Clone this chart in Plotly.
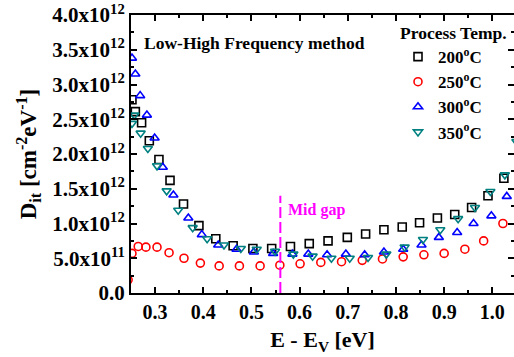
import numpy as np
import plotly.graph_objects as go

# ---- data (D_it in units of 1e12 cm^-2 eV^-1) ----
x_200 = [0.252, 0.259, 0.272, 0.288, 0.308, 0.331, 0.359, 0.391, 0.426, 0.462, 0.503, 0.542, 0.581,
         0.620, 0.659, 0.699, 0.737, 0.775, 0.813, 0.849, 0.886, 0.922, 0.957, 0.991, 1.024]
y_200 = [2.78, 2.61, 2.45, 2.19, 1.92, 1.62, 1.28, 0.97, 0.78, 0.68, 0.64, 0.64, 0.67,
         0.71, 0.75, 0.80, 0.85, 0.91, 0.95, 1.01, 1.08, 1.13, 1.23, 1.40, 1.65]

x_250 = [0.244, 0.252, 0.265, 0.281, 0.304, 0.329, 0.360, 0.394, 0.433, 0.475, 0.518, 0.559,
         0.601, 0.644, 0.687, 0.730, 0.772, 0.815, 0.858, 0.900, 0.943, 0.982, 1.022]
y_250 = [0.19, 0.57, 0.67, 0.66, 0.66, 0.58, 0.50, 0.43, 0.39, 0.39, 0.39, 0.40,
         0.42, 0.44, 0.45, 0.47, 0.49, 0.52, 0.55, 0.57, 0.63, 0.75, 1.00]

x_300 = [0.252, 0.259, 0.269, 0.283, 0.299, 0.316, 0.338, 0.369, 0.397, 0.431, 0.469, 0.505, 0.545,
         0.585, 0.618, 0.657, 0.696, 0.735, 0.775, 0.815, 0.853, 0.889, 0.927, 0.961, 0.998, 1.030]
y_300 = [3.38, 3.15, 2.84, 2.56, 2.23, 1.81, 1.41, 1.08, 0.84, 0.69, 0.63, 0.59, 0.57,
         0.56, 0.56, 0.55, 0.56, 0.55, 0.59, 0.63, 0.69, 0.80, 0.87, 1.00, 1.11, 1.39]

x_350 = [0.252, 0.257, 0.270, 0.285, 0.304, 0.324, 0.348, 0.378, 0.408, 0.443, 0.478, 0.511, 0.549,
         0.587, 0.627, 0.666, 0.704, 0.742, 0.780, 0.818, 0.856, 0.892, 0.929, 0.964, 0.996, 1.026, 1.050]
y_350 = [2.44, 2.56, 2.30, 2.08, 1.83, 1.47, 1.19, 0.94, 0.78, 0.69, 0.64, 0.63, 0.60,
         0.56, 0.53, 0.50, 0.50, 0.51, 0.56, 0.66, 0.77, 0.91, 1.07, 1.23, 1.46, 1.70, 2.18]

series_names = ["200<sup>o</sup>C", "250<sup>o</sup>C", "300<sup>o</sup>C", "350<sup>o</sup>C"]

y_tick_vals = [0.0, 0.5, 1.0, 1.5, 2.0, 2.5, 3.0, 3.5, 4.0]
y_tick_text = ["0.0", "5.0x10<sup>11</sup>", "1.0x10<sup>12</sup>", "1.5x10<sup>12</sup>",
               "2.0x10<sup>12</sup>", "2.5x10<sup>12</sup>", "3.0x10<sup>12</sup>",
               "3.5x10<sup>12</sup>", "4.0x10<sup>12</sup>"]

MID_GAP = 0.56
MID_GAP_TOP = 1.40
SCALE = 1e12

FONT = "Liberation Serif"

fig = go.Figure()
styles = [
    ("square-open", "#000000"),
    ("circle-open", "#FF0000"),
    ("triangle-up-open", "#0000FF"),
    ("triangle-down-open", "#008080"),
]
for (xs, ys), name, (sym, col) in zip(
        [(x_200, y_200), (x_250, y_250), (x_300, y_300), (x_350, y_350)], series_names, styles):
    fig.add_trace(go.Scatter(
        x=xs, y=np.array(ys) * SCALE, name=name, mode="markers",
        marker=dict(symbol=sym, size=8, color=col, line=dict(color=col, width=1.6)),
    ))

fig.add_shape(type="line", x0=MID_GAP, x1=MID_GAP, y0=0, y1=MID_GAP_TOP * SCALE,
              xref="x", yref="y", line=dict(color="#FF00FF", width=2, dash="11px,4px"))
fig.add_annotation(x=MID_GAP + 0.012, y=1.2 * SCALE, xref="x", yref="y", text="Mid gap",
                   showarrow=False, xanchor="left", yanchor="middle",
                   font=dict(family=FONT, size=16, color="#FF00FF", weight="bold"))
fig.add_annotation(x=0.028, y=0.9, xref="paper", yref="paper", text="Low-High Frequency method",
                   showarrow=False, xanchor="left", yanchor="middle",
                   font=dict(family=FONT, size=17.5, color="black", weight="bold"))
fig.add_annotation(x=(398 - 131) / 383, y=(292.5 - 33) / 277.5, xref="paper", yref="paper",
                   text="Process Temp.", showarrow=False, xanchor="left", yanchor="middle",
                   font=dict(family=FONT, size=17.5, color="black", weight="bold"))

axis_common = dict(
    showline=True, linecolor="black", linewidth=2, mirror="ticks",
    ticks="inside", ticklen=6, tickwidth=2, tickcolor="black",
    showgrid=False, zeroline=False, automargin=False,
)

fig.update_xaxes(
    **axis_common, range=[0.25, 1.045], tick0=0.3, dtick=0.1, tickformat=".1f",
    tickfont=dict(family=FONT, size=20, color="black", weight="bold"),
    minor=dict(ticks="inside", ticklen=3, tickwidth=2, tickcolor="black", dtick=0.05, tick0=0.25),
    title=dict(text="E - E<sub>V</sub> [eV]", font=dict(family=FONT, size=22, color="black", weight="bold"),
               standoff=10),
)
fig.update_yaxes(
    **axis_common, range=[0, 4.0 * SCALE],
    tickvals=[v * SCALE for v in y_tick_vals], ticktext=y_tick_text,
    tickfont=dict(family=FONT, size=21, color="black", weight="bold"),
    minor=dict(ticks="inside", ticklen=3, tickwidth=2, tickcolor="black",
               tickvals=[v * SCALE for v in np.arange(0.25, 4.0, 0.5)]),
    title=dict(text="D<sub>it</sub> [cm<sup>-2</sup>eV<sup>-1</sup>]",
               font=dict(family=FONT, size=23, color="black", weight="bold"), standoff=9),
)

fig.update_layout(
    width=514, height=357,
    margin=dict(l=131, r=0, t=15, b=64, autoexpand=False),
    paper_bgcolor="white", plot_bgcolor="white",
    showlegend=True,
    legend=dict(
        x=(398 - 131) / 383, y=(292.5 - 39) / 277.5, xanchor="left", yanchor="top",
        bgcolor="rgba(0,0,0,0)", borderwidth=0, tracegroupgap=0,
        font=dict(family=FONT, size=17, color="black", weight="bold"),
    ),
)

fig.write_html("out.html", config={"displayModeBar": False},
               post_script="document.body.style.margin='0';document.body.style.overflow='hidden';")
